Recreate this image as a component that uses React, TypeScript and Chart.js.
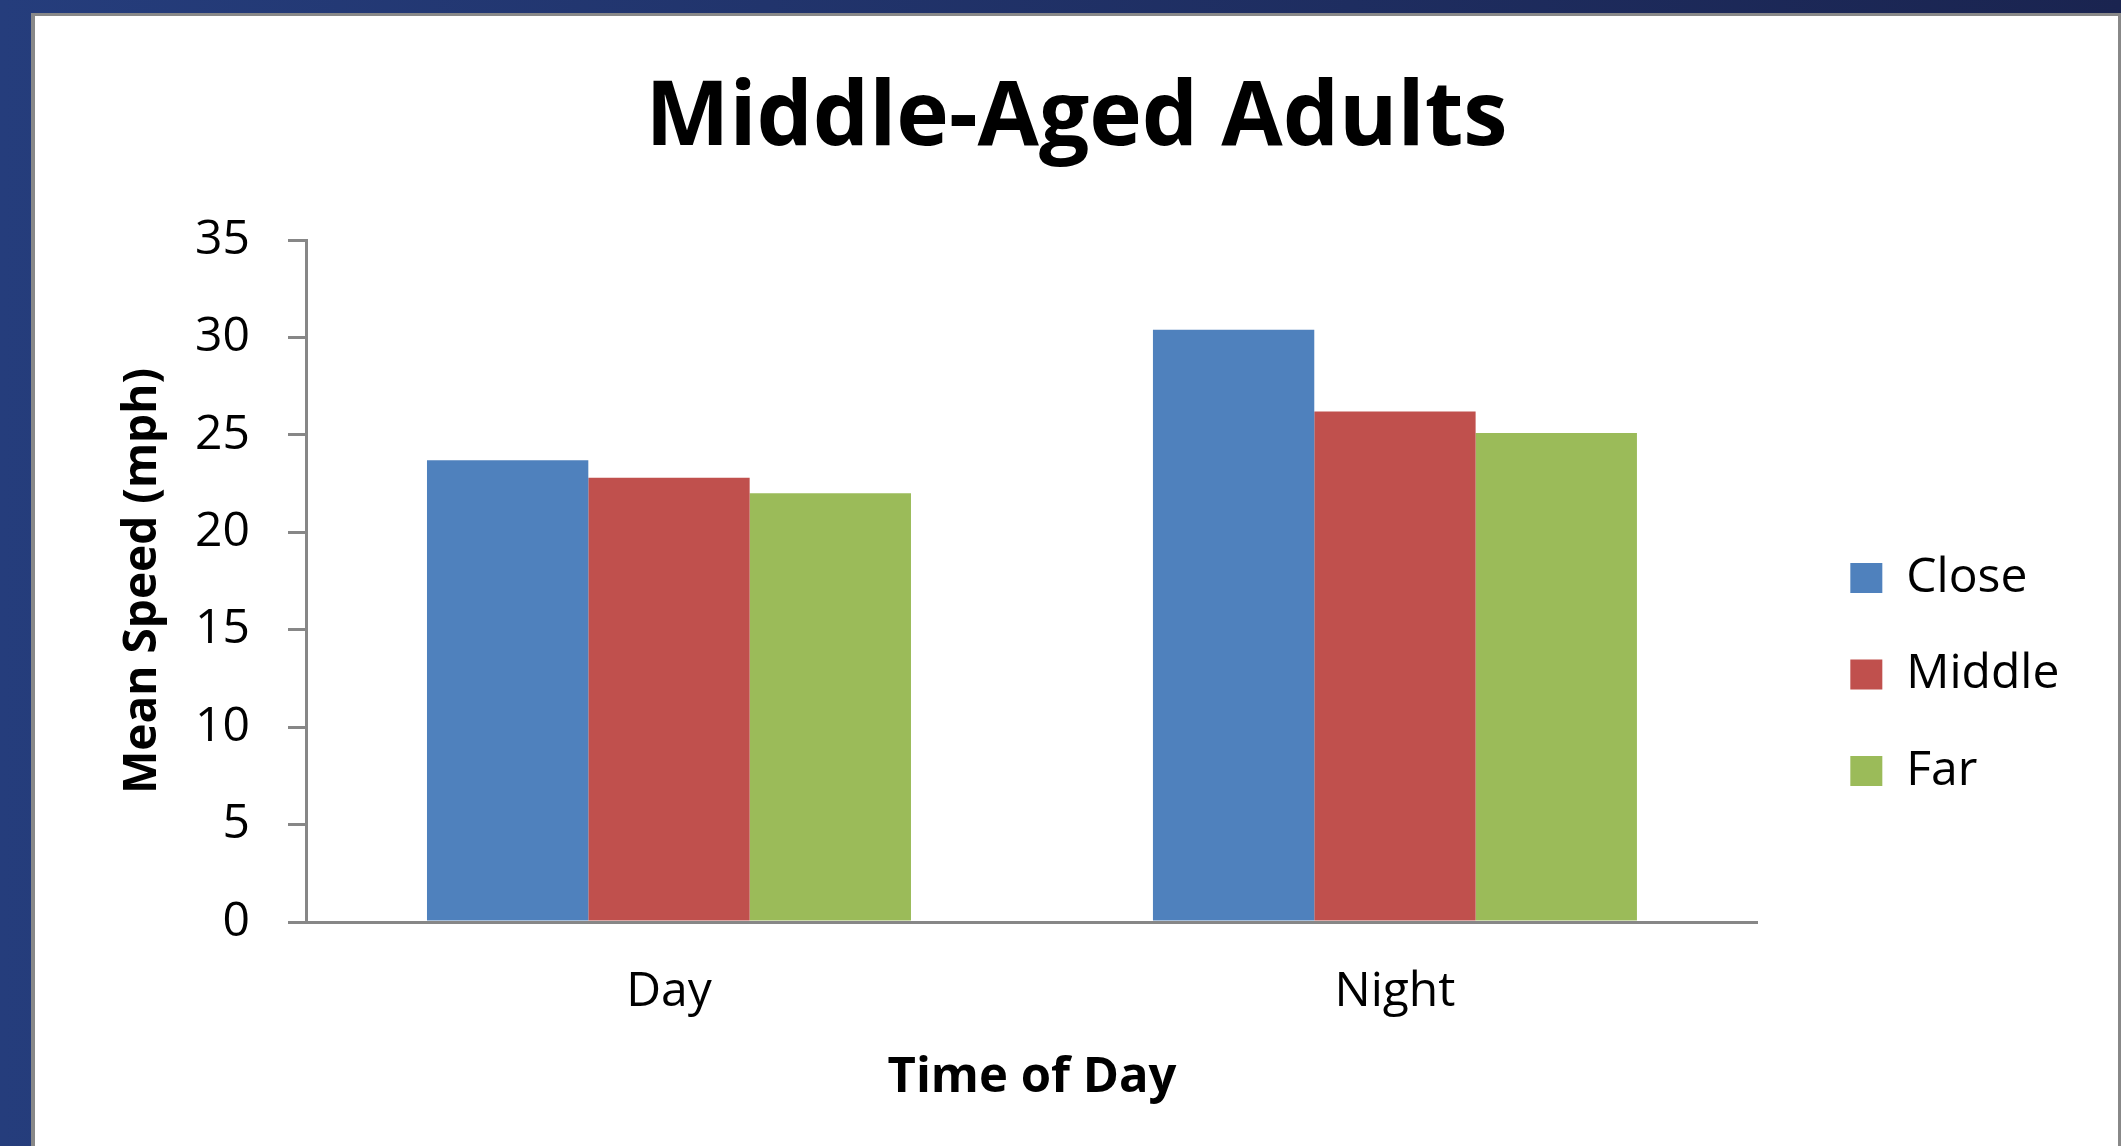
import React, { useEffect, useRef } from 'react';
import { Chart, registerables } from 'chart.js';

Chart.register(...registerables);

// ---- data ----
const categories = ['Day', 'Night'];
const seriesNames = ['Close', 'Middle', 'Far'];
const closeValues = [23.7, 30.4];
const middleValues = [22.8, 26.2];
const farValues = [22.0, 25.1];
const yTickValues = [0, 5, 10, 15, 20, 25, 30, 35];
const chartTitle = 'Middle-Aged Adults';
const xAxisTitle = 'Time of Day';
const yAxisTitle = 'Mean Speed (mph)';

// ---- styles ----
const seriesColors = ['#4F81BD', '#C0504D', '#9BBB59'];
const FONT = "'Open Sans', sans-serif";
const AXIS_GRAY = '#878787';
const CANVAS_W = 2083;
const CANVAS_H = 1130;

export default function App() {
  const canvasRef = useRef<HTMLCanvasElement | null>(null);

  useEffect(() => {
    const canvas = canvasRef.current;
    if (!canvas) return;
    const seriesValues = [closeValues, middleValues, farValues];
    const chart = new Chart(canvas, {
      type: 'bar',
      data: {
        labels: categories,
        datasets: seriesNames.map((name, i) => ({
          label: name,
          data: seriesValues[i],
          backgroundColor: seriesColors[i],
          borderWidth: 0,
          yAxisID: 'y',
          xAxisID: 'x',
          categoryPercentage: 0.6667,
          barPercentage: 1,
        })),
      },
      options: {
        animation: false,
        responsive: false,
        devicePixelRatio: 1,
        layout: { padding: 0 },
        plugins: {
          title: {
            display: true,
            text: chartTitle,
            color: '#000',
            font: { family: FONT, size: 89, weight: 'bold', lineHeight: 1.2 },
            padding: { top: 50, bottom: 67.2 },
          },
          legend: {
            display: true,
            position: 'right',
            align: 'start',
            title: {
              display: true,
              text: ' ',
              font: { family: FONT, size: 10, lineHeight: 1.2 },
              padding: { top: 477.5, bottom: 0 },
            },
            labels: {
              boxWidth: 32,
              boxHeight: 30,
              padding: 48.5,
              color: '#000',
              font: { family: FONT, size: 48 },
            },
          },
          tooltip: { enabled: false },
        },
        scales: {
          x: {
            type: 'category',
            offset: true,
            grid: { display: false },
            border: { display: true, color: AXIS_GRAY, width: 3 },
            ticks: { color: '#000', font: { family: FONT, size: 48 }, padding: 34 },
            title: {
              display: true,
              text: xAxisTitle,
              color: '#000',
              font: { family: FONT, size: 49, weight: 'bold' },
              padding: { top: 0, bottom: 38.6 },
            },
            afterFit: (s: any) => { s.height = 224; },
          },
          y: {
            type: 'linear',
            position: 'left',
            min: 0,
            max: 35,
            grid: {
              display: true,
              drawOnChartArea: false,
              drawTicks: true,
              tickLength: 18,
              color: AXIS_GRAY,
              lineWidth: 3,
            },
            border: { display: true, color: AXIS_GRAY, width: 3 },
            ticks: { color: '#000', font: { family: FONT, size: 48 }, padding: 38 },
            afterBuildTicks: (s: any) => {
              s.ticks = yTickValues.map((v) => ({ value: v }));
            },
            title: {
              display: true,
              text: yAxisTitle,
              color: '#000',
              font: { family: FONT, size: 46, weight: 'bold' },
              padding: { top: 80, bottom: 0 },
            },
            afterFit: (s: any) => { s.width = 271; },
          },
          gapRight: {
            type: 'linear',
            axis: 'y',
            position: 'right',
            weight: 0,
            display: true,
            grid: { display: false },
            border: { display: false },
            ticks: { display: false },
            afterFit: (s: any) => { s.width = 43.9; },
          },
          padRight: {
            type: 'linear',
            axis: 'y',
            position: 'right',
            weight: 5000,
            display: true,
            grid: { display: false },
            border: { display: false },
            ticks: { display: false },
            afterFit: (s: any) => { s.width = 55.8; },
          },
        },
      } as any,
    });
    return () => chart.destroy();
  }, []);

  return (
    <div
      style={{
        position: 'fixed',
        left: 0,
        top: 0,
        width: 2121,
        height: 1146,
        overflow: 'hidden',
        background: 'linear-gradient(to right, #253d7c, #1a2450)',
      }}
    >
      <div
        style={{
          position: 'absolute',
          left: 31,
          top: 13,
          width: CANVAS_W,
          height: 1160,
          background: '#fff',
          borderLeft: '4px solid #888',
          borderTop: '3px solid #888',
          borderRight: '3px solid #888',
        }}
      >
        <canvas
          ref={canvasRef}
          width={CANVAS_W}
          height={CANVAS_H}
          style={{ display: 'block', width: CANVAS_W, height: CANVAS_H }}
        />
      </div>
    </div>
  );
}
